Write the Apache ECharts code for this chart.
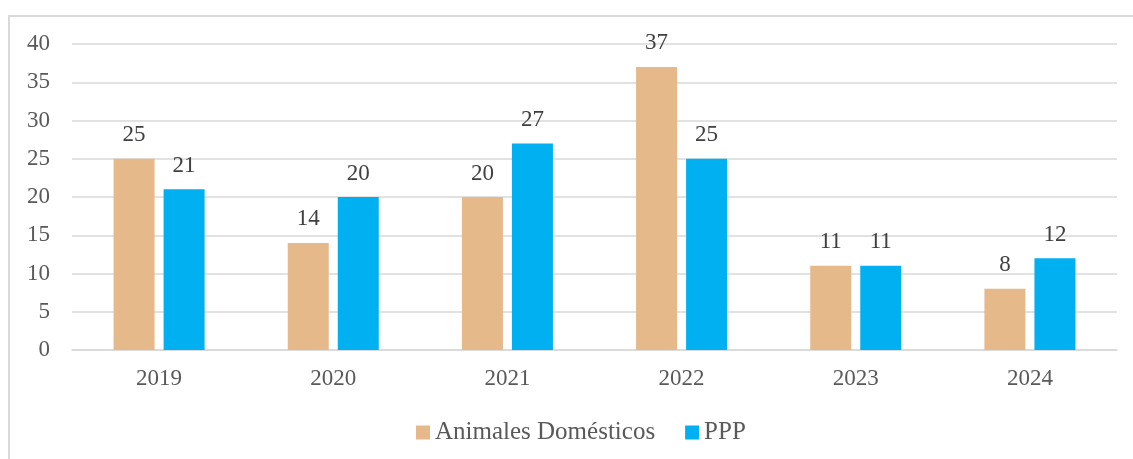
<!DOCTYPE html>
<html>
<head>
<meta charset="utf-8">
<title>Animales Domésticos / PPP</title>
<script src="https://cdn.jsdelivr.net/npm/echarts@6/dist/echarts.min.js"></script>
<style>
  html, body { margin: 0; padding: 0; background: #fff; }
  #chart { width: 1133px; height: 459px; }
</style>
</head>
<body>
<div id="chart"></div>
<script>
    var years = ['2019', '2020', '2021', '2022', '2023', '2024'];
    var animales = [25, 14, 20, 37, 11, 8];
    var ppp = [21, 20, 27, 25, 11, 12];
    var seriesNames = ['Animales Domésticos', 'PPP'];

    var font = '"Liberation Serif", "DejaVu Serif", serif';
    var textColor = '#595959';

    var chart = echarts.init(document.getElementById('chart'));

    var labelStyle = {
        show: true,
        position: 'top',
        distance: 12,
        fontFamily: font,
        fontSize: 23,
        color: '#404040'
    };

    chart.setOption({
        animation: false,
        graphic: [{
            type: 'rect',
            shape: { x: 9, y: 16, width: 1200, height: 600 },
            style: { fill: 'none', stroke: '#d9d9d9', lineWidth: 2 },
            silent: true
        }],
        grid: { left: 72, right: 16, top: 44, bottom: 109 },
        legend: {
            bottom: 9,
            left: 411,
            itemWidth: 14,
            itemHeight: 14,
            itemGap: 30,
            icon: 'rect',
            textStyle: { fontFamily: font, fontSize: 25, color: textColor },
            data: seriesNames
        },
        xAxis: {
            type: 'category',
            data: years,
            axisLine: { lineStyle: { color: '#d9d9d9', width: 1.5 } },
            axisTick: { show: false },
            axisLabel: { fontFamily: font, fontSize: 23, color: textColor, margin: 17 }
        },
        yAxis: {
            type: 'value',
            min: 0,
            max: 40,
            interval: 5,
            axisLine: { show: false },
            axisTick: { show: false },
            splitLine: { lineStyle: { color: '#d9d9d9', width: 1.5 } },
            axisLabel: { fontFamily: font, fontSize: 23, color: textColor, margin: 22 }
        },
        series: [
            {
                name: seriesNames[0],
                type: 'bar',
                data: animales,
                barWidth: 41,
                barGap: '22%',
                itemStyle: { color: '#E6B98A' },
                label: labelStyle
            },
            {
                name: seriesNames[1],
                type: 'bar',
                data: ppp,
                barWidth: 41,
                itemStyle: { color: '#00B0F0' },
                label: labelStyle
            }
        ]
    });
</script>
</body>
</html>
